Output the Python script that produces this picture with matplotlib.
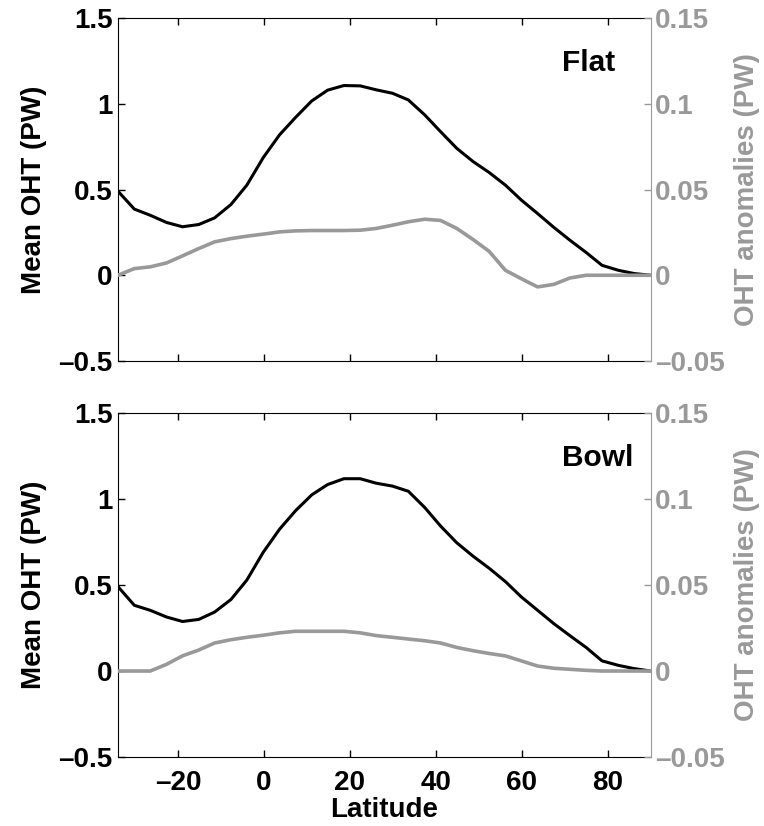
import matplotlib
matplotlib.use('Agg')
import matplotlib.pyplot as plt

plt.rcParams['font.family'] = ['Liberation Sans', 'DejaVu Sans']
plt.rcParams['font.weight'] = 'bold'

GRAY = '#999999'

# latitude grid (deg)
lat = [-34.0, -30.2, -26.5, -22.7, -19.0, -15.2, -11.5, -7.7, -4.0, -0.2,
       3.6, 7.3, 11.1, 14.8, 18.6, 22.4, 26.1, 29.9, 33.6, 37.4,
       41.1, 44.9, 48.7, 52.4, 56.2, 59.9, 63.7, 67.5, 71.2, 75.0,
       78.7, 82.5, 86.2, 90.0]

# mean OHT (PW)
flat_mean = [0.49, 0.386, 0.35, 0.308, 0.283, 0.296, 0.335, 0.413, 0.526, 0.686,
             0.819, 0.92, 1.017, 1.08, 1.107, 1.105, 1.082, 1.062, 1.023, 0.936,
             0.838, 0.74, 0.663, 0.6, 0.526, 0.439, 0.36, 0.279, 0.205, 0.133,
             0.058, 0.029, 0.01, 0.0]
bowl_mean = [0.49, 0.382, 0.353, 0.314, 0.288, 0.3, 0.343, 0.416, 0.529, 0.69,
             0.824, 0.931, 1.024, 1.084, 1.118, 1.118, 1.092, 1.075, 1.045, 0.951,
             0.843, 0.745, 0.667, 0.598, 0.52, 0.431, 0.353, 0.275, 0.206, 0.137,
             0.059, 0.033, 0.014, 0.0]

# OHT anomalies (PW)
flat_anom = [0.0, 0.0039, 0.0049, 0.0072, 0.0113, 0.0156, 0.0195, 0.0214, 0.0228, 0.024,
             0.0253, 0.0259, 0.0261, 0.0261, 0.0261, 0.0263, 0.0273, 0.0292, 0.0312, 0.0327,
             0.032, 0.0273, 0.0208, 0.014, 0.0029, -0.002, -0.0068, -0.0053, -0.0016, 0.0,
             0.0, 0.0, 0.0, 0.0]
bowl_anom = [0.0, 0.0, 0.0, 0.0039, 0.0088, 0.0122, 0.0163, 0.0182, 0.0196, 0.0208,
             0.0222, 0.0231, 0.0231, 0.0231, 0.0231, 0.0222, 0.0206, 0.0196, 0.0186, 0.0176,
             0.0163, 0.0137, 0.0118, 0.0102, 0.0088, 0.0059, 0.0029, 0.0016, 0.001, 0.0004,
             0.0, 0.0, 0.0, 0.0]

panels = ['Flat', 'Bowl']
means = [flat_mean, bowl_mean]
anoms = [flat_anom, bowl_anom]

fig = plt.figure(figsize=(7.64, 8.26), dpi=100)
boxes = [[0.1545, 0.563, 0.697, 0.415], [0.1545, 0.0835, 0.697, 0.4165]]

for i in range(2):
    ax = fig.add_axes(boxes[i])
    ax.plot(lat, means[i], color='black', linewidth=2.2)
    ax.set_xlim(-34, 90)
    ax.set_ylim(-0.5, 1.5)
    ax.set_yticks([-0.5, 0, 0.5, 1, 1.5])
    ax.set_yticklabels(['\u20130.5', '0', '0.5', '1', '1.5'])
    ax.set_xticks([-20, 0, 20, 40, 60, 80])
    ax.tick_params(direction='in', length=5, width=1, labelsize=20, pad=4,
                   top=True, right=False)
    ax.tick_params(axis='x', pad=9)
    ax.set_ylabel('Mean OHT (PW)', fontsize=20, fontweight='bold', labelpad=8)
    ax.spines['right'].set_visible(False)
    if i == 1:
        ax.set_xticklabels(['\u201320', '0', '20', '40', '60', '80'])
        ax.set_xlabel('Latitude', fontsize=20, fontweight='bold', labelpad=1)
    else:
        ax.set_xticklabels([])
    for lbl in ax.get_xticklabels() + ax.get_yticklabels():
        lbl.set_fontweight('bold')
    ax.text(69.3, 1.24, panels[i], fontsize=21.5, fontweight='bold', va='center', ha='left')

    ax2 = ax.twinx()
    ax2.plot(lat, anoms[i], color=GRAY, linewidth=2.6)
    ax2.set_xlim(-34, 90)
    ax2.set_ylim(-0.05, 0.15)
    ax2.set_yticks([-0.05, 0, 0.05, 0.1, 0.15])
    ax2.set_yticklabels(['\u20130.05', '0', '0.05', '0.1', '0.15'])
    ax2.tick_params(direction='in', length=5, width=1, labelsize=20, pad=3, colors=GRAY)
    for lbl in ax2.get_yticklabels():
        lbl.set_fontweight('bold')
    for s in ['top', 'left', 'bottom']:
        ax2.spines[s].set_visible(False)
    ax2.spines['right'].set_color(GRAY)
    ax2.set_ylabel('OHT anomalies (PW)', fontsize=20, fontweight='bold', color=GRAY, labelpad=7)

fig.savefig('out.png', dpi=100)
